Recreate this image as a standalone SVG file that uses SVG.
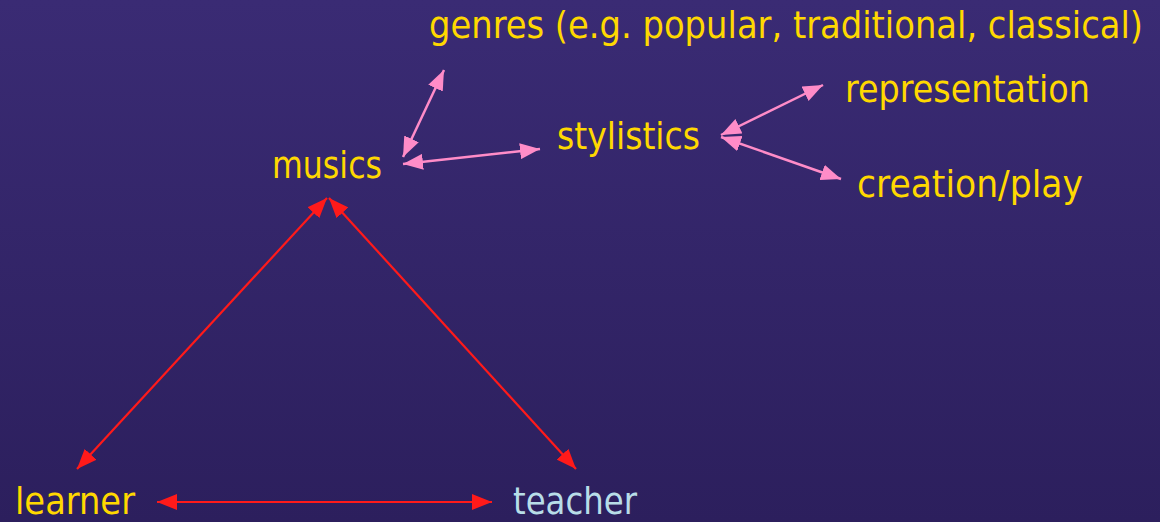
<svg xmlns="http://www.w3.org/2000/svg" width="1160" height="522" viewBox="0 0 1160 522">
<defs>
<linearGradient id="bg" x1="0" y1="0" x2="0" y2="1">
<stop offset="0" stop-color="#3a2b74"/>
<stop offset="1" stop-color="#2c1f5d"/>
</linearGradient>
<marker id="ap" viewBox="0 0 20 16" refX="20" refY="8" markerWidth="20" markerHeight="16" markerUnits="userSpaceOnUse" orient="auto-start-reverse">
<path d="M0,0 L20,8 L0,16 Z" fill="#ff8cc8"/>
</marker>
<marker id="ar" viewBox="0 0 20 16" refX="20" refY="8" markerWidth="20" markerHeight="16" markerUnits="userSpaceOnUse" orient="auto-start-reverse">
<path d="M0,0 L20,8 L0,16 Z" fill="#ff1a1a"/>
</marker>
<style>
text{font-family:"DejaVu Sans Condensed","DejaVu Sans",sans-serif;font-size:38px;fill:#ffd800}
.pink{stroke:#ff8cc8;stroke-width:2.5;fill:none;marker-start:url(#ap);marker-end:url(#ap)}
.red{stroke:#ff1a1a;stroke-width:2.2;fill:none;marker-start:url(#ar);marker-end:url(#ar)}
</style>
</defs>
<rect width="1160" height="522" fill="url(#bg)"/>
<g id="connectors">
<line class="pink" x1="403" y1="157" x2="444" y2="70"/>
<line class="pink" x1="403" y1="164" x2="540" y2="149"/>
<line class="pink" x1="721" y1="135" x2="823" y2="85"/>
<line class="pink" x1="721" y1="137" x2="841" y2="179"/>
<line class="red" x1="327" y1="198" x2="77" y2="469"/>
<line class="red" x1="329" y1="198" x2="576" y2="469"/>
<line class="red" x1="157" y1="502" x2="492" y2="502"/>
</g>
<g id="node-genres"><text x="429" y="38" textLength="714" lengthAdjust="spacingAndGlyphs">genres (e.g. popular, traditional, classical)</text></g>
<g id="node-representation"><text x="845" y="102" textLength="245" lengthAdjust="spacingAndGlyphs">representation</text></g>
<g id="node-stylistics"><text x="557" y="149" textLength="143" lengthAdjust="spacingAndGlyphs">stylistics</text></g>
<g id="node-musics"><text x="272" y="178" textLength="110" lengthAdjust="spacingAndGlyphs">musics</text></g>
<g id="node-creation"><text x="857" y="197" textLength="226" lengthAdjust="spacingAndGlyphs">creation/play</text></g>
<g id="node-learner"><text x="15" y="514" textLength="120" lengthAdjust="spacingAndGlyphs">learner</text></g>
<g id="node-teacher"><text x="513" y="514" textLength="124" lengthAdjust="spacingAndGlyphs" style="fill:#b8dde8">teacher</text></g>
</svg>
